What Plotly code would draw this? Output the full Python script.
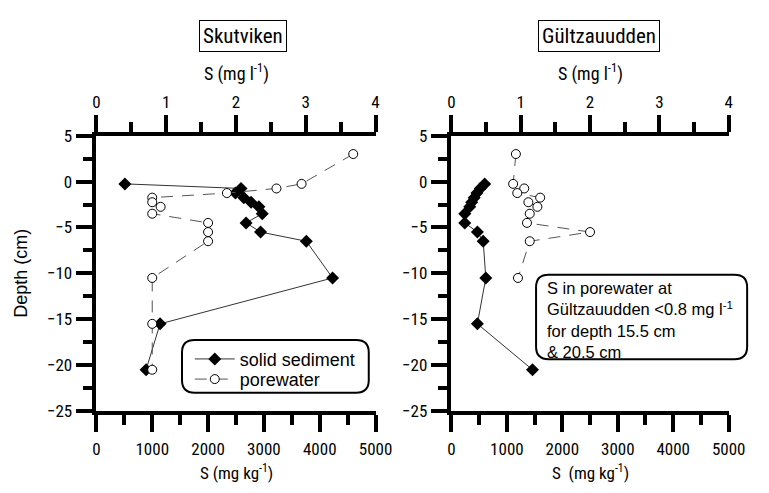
import plotly.graph_objects as go

# ---------------- data ----------------
depth_solid = [-0.25, -0.75, -1.25, -1.75, -2.25, -2.75, -3.5, -4.5, -5.5, -6.5, -10.5, -15.5, -20.5]
skut_solid = [510, 2590, 2490, 2640, 2770, 2910, 2970, 2680, 2940, 3760, 4230, 1140, 890]
gult_solid = [600, 520, 460, 410, 365, 330, 240, 240, 468, 573, 620, 468, 1462]

depth_pw_skut = [3, -0.25, -0.75, -1.25, -1.75, -2.25, -2.75, -3.5, -4.5, -5.5, -6.5, -10.5, -15.5, -20.5]
skut_pw = [3.68, 2.94, 2.58, 1.87, 0.8, 0.8, 0.92, 0.8, 1.6, 1.6, 1.6, 0.8, 0.8, 0.8]

depth_pw_gult = [3, -0.25, -0.75, -1.25, -1.75, -2.25, -2.75, -3.5, -4.5, -5.5, -6.5, -10.5]
gult_pw = [0.93, 0.89, 1.05, 0.95, 1.28, 1.11, 1.24, 1.13, 1.09, 2.0, 1.13, 0.96]

titles = ["Skutviken", "Gültzauudden"]
top_title = "S (mg l<sup>-1</sup>)"
bottom_titles = ["S (mg kg<sup>-1</sup>)", "S  (mg kg<sup>-1</sup>)"]
note_text = "S in porewater at<br>Gültzauudden <0.8 mg l<sup>-1</sup><br>for depth 15.5 cm<br>&amp; 20.5 cm"

W, H = 769, 493
NARROW = "Liberation Sans Narrow, Arial Narrow, Roboto Condensed, Liberation Sans, Arial"
SANS = "Liberation Sans, Arial"

def px(x):
    return x / W

def py(y):
    return 1 - y / H

def rounded(x0, y0, x1, y1, r):
    X = lambda v: f"{px(v):.5f}"
    Y = lambda v: f"{py(v):.5f}"
    return (f"M {X(x0+r)},{Y(y0)} L {X(x1-r)},{Y(y0)} Q {X(x1)},{Y(y0)} {X(x1)},{Y(y0+r)} "
            f"L {X(x1)},{Y(y1-r)} Q {X(x1)},{Y(y1)} {X(x1-r)},{Y(y1)} "
            f"L {X(x0+r)},{Y(y1)} Q {X(x0)},{Y(y1)} {X(x0)},{Y(y1-r)} "
            f"L {X(x0)},{Y(y0+r)} Q {X(x0)},{Y(y0)} {X(x0+r)},{Y(y0)} Z")

fig = go.Figure()

solid_style = dict(mode="lines+markers", line=dict(color="#333333", width=1),
                   marker=dict(symbol="diamond", size=10, color="black"))
pw_style = dict(mode="lines+markers", line=dict(color="#555555", width=1, dash="12px,9px"),
                marker=dict(symbol="circle", size=9, color="white", line=dict(color="black", width=1)))

fig.add_trace(go.Scatter(x=skut_solid, y=depth_solid, xaxis="x", yaxis="y",
                         name="solid sediment", showlegend=True, legend="legend", **solid_style))
fig.add_trace(go.Scatter(x=skut_pw, y=depth_pw_skut, xaxis="x2", yaxis="y",
                         name="porewater", showlegend=True, legend="legend2", **pw_style))
fig.add_trace(go.Scatter(x=gult_solid, y=depth_solid, xaxis="x3", yaxis="y2",
                         name="solid sediment", showlegend=False, **solid_style))
fig.add_trace(go.Scatter(x=gult_pw, y=depth_pw_gult, xaxis="x4", yaxis="y2",
                         name="porewater", showlegend=False, **pw_style))

dom_left = [px(95), px(382)]
dom_right = [px(460), px(745)]
dom_y = [py(418), py(131)]

tickfont = dict(family=NARROW, size=17, color="black")
common = dict(showline=True, linewidth=3.5, linecolor="black", ticks="outside", ticklen=17,
              tickwidth=3.5, tickcolor="black", showgrid=False, zeroline=False, tickfont=tickfont,
              fixedrange=True)
minor_common = dict(ticklen=10, tickwidth=3.5, tickcolor="black", ticks="outside")

def bottom_axis(dom, anchor):
    return dict(domain=dom, range=[0, 5000], tickvals=[0, 1000, 2000, 3000, 4000, 5000],
                minor=dict(tickvals=[500, 1500, 2500, 3500, 4500], **minor_common),
                ticklabelstandoff=3, anchor=anchor, side="bottom", **common)

def top_axis(over, anchor):
    return dict(range=[0, 4], tickvals=[0, 1, 2, 3, 4],
                minor=dict(tickvals=[0.5, 1.5, 2.5, 3.5], **minor_common),
                overlaying=over, anchor=anchor, side="top", **common)

def y_axis(anchor):
    return dict(domain=dom_y, range=[-25, 5], tickvals=[-25, -20, -15, -10, -5, 0, 5],
                minor=dict(tickvals=[-22.5, -17.5, -12.5, -7.5, -2.5, 2.5], **minor_common),
                anchor=anchor, **common)

leg_common = dict(xanchor="left", yanchor="middle", bgcolor="rgba(0,0,0,0)", borderwidth=0,
                  itemwidth=40, font=dict(family=SANS, size=18, color="black"))

fig.update_layout(
    width=W, height=H, margin=dict(l=0, r=0, t=0, b=0),
    paper_bgcolor="white", plot_bgcolor="white",
    xaxis=bottom_axis(dom_left, "y"),
    xaxis2=top_axis("x", "y"),
    xaxis3=bottom_axis(dom_right, "y2"),
    xaxis4=top_axis("x3", "y2"),
    yaxis=y_axis("x"),
    yaxis2=y_axis("x3"),
    showlegend=True,
    legend=dict(x=px(191), y=py(364), **leg_common),
    legend2=dict(x=px(191), y=py(385), **leg_common),
)

shapes = [
    dict(type="path", xref="paper", yref="paper", path=rounded(183, 344, 375, 399, 13),
         line=dict(color="black", width=2), fillcolor="rgba(0,0,0,0)", layer="above"),
    dict(type="path", xref="paper", yref="paper", path=rounded(547, 276, 764, 364, 13),
         line=dict(color="black", width=2), fillcolor="white", layer="above"),
]
fig.update_layout(shapes=shapes)

ann = []
title_centers = [246, 612]
axis_centers = [239, 603]
for i in range(2):
    ann.append(dict(text=titles[i], x=px(title_centers[i]), y=py(27), xref="paper", yref="paper",
                    showarrow=False, xanchor="center", yanchor="middle",
                    font=dict(family=NARROW, size=21, color="black"),
                    bordercolor="black", borderwidth=1, borderpad=3, bgcolor="white"))
    ann.append(dict(text=top_title, x=px(axis_centers[i]), y=py(65), xref="paper", yref="paper",
                    showarrow=False, xanchor="center", yanchor="middle",
                    font=dict(family=NARROW, size=18, color="black")))
    ann.append(dict(text=bottom_titles[i], x=px(axis_centers[i]), y=py(482), xref="paper", yref="paper",
                    showarrow=False, xanchor="center", yanchor="middle",
                    font=dict(family=NARROW, size=17, color="black")))
ann.append(dict(text="Depth (cm)", x=px(18), y=py(274.5), xref="paper", yref="paper",
                showarrow=False, textangle=-90, xanchor="center", yanchor="middle",
                font=dict(family=SANS, size=18, color="black")))
ann.append(dict(text=note_text, x=px(556), y=py(278), xref="paper", yref="paper",
                showarrow=False, xanchor="left", yanchor="top", align="left",
                font=dict(family=SANS, size=16.5, color="black")))
fig.update_layout(annotations=ann)

fig.write_html("out.html")
